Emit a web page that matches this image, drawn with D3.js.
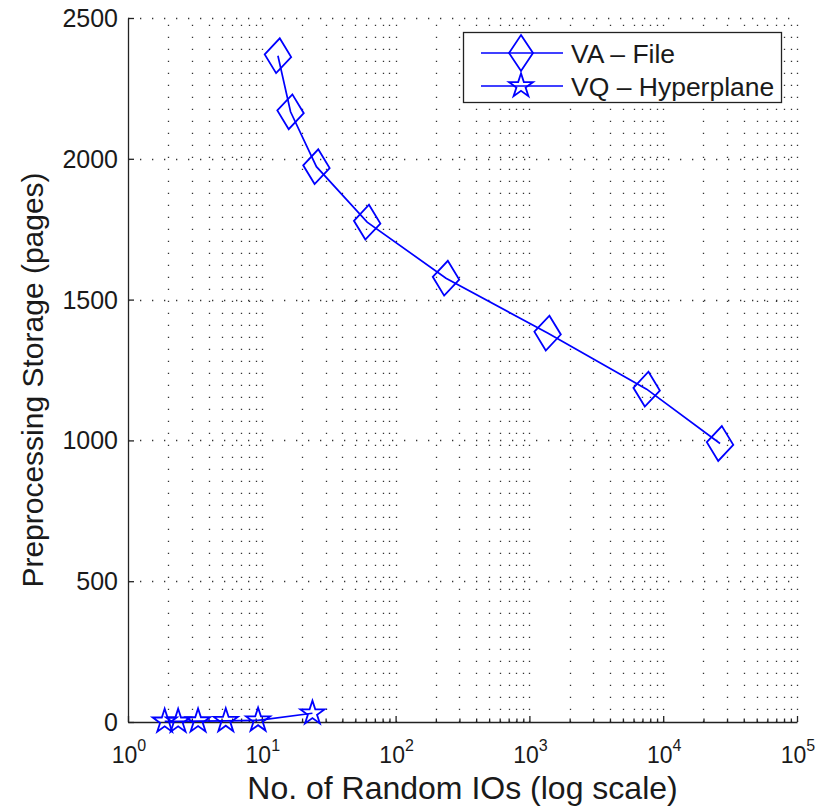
<!DOCTYPE html>
<html>
<head>
<meta charset="utf-8">
<script src="https://cdn.jsdelivr.net/npm/d3@7"></script>
<style>
  body { margin: 0; background: #fff; }
  text { font-family: "Liberation Sans", Arial, sans-serif; fill: #1a1a1a; }
</style>
</head>
<body>
<div id="container"></div>
<script>
/* DATA */
const vaIOs = [13.2, 16.4, 25.6, 61.3, 238, 1368, 7520, 26600];
const vaPages = [2366, 2167, 1972, 1775, 1576, 1381, 1182, 989];
const vqIOs = [1.88, 2.37, 3.34, 5.38, 9.38, 23.9];
const vqPages = [2, 2, 3, 4, 6, 31];
const seriesNames = ["VA \u2013 File", "VQ \u2013 Hyperplane"];
const yTicks = [0, 500, 1000, 1500, 2000, 2500];
const xDecades = [0, 1, 2, 3, 4, 5];

/* CONSTANTS */
const width = 816, height = 809;
const margin = {left: 128, right: 19, top: 18, bottom: 87};
const blue = "#0000ff";

const svg = d3.select("#container")
  .append("svg")
  .attr("width", width)
  .attr("height", height);

// SCALES
const xScale = d3.scaleLog()
  .domain([1, 1e5])
  .range([margin.left, width - margin.right]);

const yScale = d3.scaleLinear()
  .domain([0, 2500])
  .range([height - margin.bottom, margin.top]);

const x0 = xScale.range()[0], x1 = xScale.range()[1];
const y0 = yScale.range()[0], y1 = yScale.range()[1];

// minor tick values
const minorX = [];
xDecades.slice(0, -1).forEach(p => {
  for (let m = 2; m <= 9; m++) minorX.push(m * Math.pow(10, p));
});
const majorX = xDecades.map(p => Math.pow(10, p));

// GRID
const grid = svg.append("g")
  .attr("stroke", "#333")
  .attr("stroke-width", 1.3)
  .attr("stroke-dasharray", "1.3,10.7");

grid.selectAll("line.vx")
  .data(majorX.slice(1).concat(minorX))
  .join("line")
  .attr("class", "vx")
  .attr("x1", d => Math.round(xScale(d)) + 0.5)
  .attr("x2", d => Math.round(xScale(d)) + 0.5)
  .attr("y1", y0)
  .attr("y2", y1);

grid.selectAll("line.hy")
  .data(yTicks.slice(1))
  .join("line")
  .attr("class", "hy")
  .attr("x1", x0)
  .attr("x2", x1)
  .attr("y1", d => Math.round(yScale(d)) + 0.5)
  .attr("y2", d => Math.round(yScale(d)) + 0.5);

// AXES
const xAxis = d3.axisBottom(xScale)
  .tickValues(majorX)
  .tickSizeInner(-6)
  .tickSizeOuter(0)
  .tickFormat("");

const xMinor = d3.axisBottom(xScale)
  .tickValues(minorX)
  .tickSizeInner(-3.5)
  .tickSizeOuter(0)
  .tickFormat("");

const yAxis = d3.axisLeft(yScale)
  .tickValues(yTicks)
  .tickSizeInner(-6)
  .tickSizeOuter(0)
  .tickFormat("");

svg.append("g")
  .attr("transform", `translate(0,${y0})`)
  .call(xMinor)
  .call(g => g.select(".domain").remove());

svg.append("g")
  .attr("transform", `translate(0,${y0})`)
  .call(xAxis);

svg.append("g")
  .attr("transform", `translate(${x0},0)`)
  .call(yAxis);

svg.selectAll(".domain, .tick line")
  .attr("stroke", "#222")
  .attr("stroke-width", 1.3);

// tick labels
svg.append("g").selectAll("text")
  .data(yTicks)
  .join("text")
  .attr("x", x0 - 10)
  .attr("y", d => yScale(d))
  .attr("dy", "0.36em")
  .attr("text-anchor", "end")
  .attr("font-size", 25)
  .text(d => d);

const xl = svg.append("g").selectAll("text")
  .data(xDecades)
  .join("text")
  .attr("x", d => xScale(Math.pow(10, d)) + 1)
  .attr("y", y0 + 41)
  .attr("text-anchor", "middle")
  .attr("font-size", 23);
xl.append("tspan").text("10");
xl.append("tspan")
  .attr("dy", -12)
  .attr("font-size", 16)
  .text(d => d);

// axis titles
svg.append("text")
  .attr("x", (x0 + x1) / 2)
  .attr("y", height - 10)
  .attr("text-anchor", "middle")
  .attr("font-size", 32)
  .text("No. of Random IOs (log scale)");

svg.append("text")
  .attr("transform", `translate(43,${(y0 + y1) / 2 + 10}) rotate(-90)`)
  .attr("text-anchor", "middle")
  .attr("font-size", 30)
  .text("Preprocessing Storage (pages)");

// LINES
const vaData = vaIOs.map((v, i) => ({x: v, y: vaPages[i]}));
const vqData = vqIOs.map((v, i) => ({x: v, y: vqPages[i]}));

const lineGen = d3.line()
  .x(d => xScale(d.x))
  .y(d => yScale(d.y));

svg.selectAll("path.line")
  .data([vaData, vqData])
  .join("path")
  .attr("class", "line")
  .attr("fill", "none")
  .attr("stroke", blue)
  .attr("stroke-width", 1.7)
  .attr("d", d => lineGen(d));

// MARKERS
const diamondPath = "M0,-17.5L13.3,0L0,17.5L-13.3,0Z";
const starPath = d3.symbol(d3.symbolStar, 180)();

function drawMarkers(data, path, rot) {
  svg.append("g").selectAll("path")
    .data(data)
    .join("path")
    .attr("transform", d => `translate(${xScale(d.x)},${yScale(d.y)}) rotate(${rot})`)
    .attr("d", path)
    .attr("fill", "none")
    .attr("stroke", blue)
    .attr("stroke-width", 1.8);
}
drawMarkers(vaData, diamondPath, 6);
drawMarkers(vqData, starPath, 0);

// LEGEND
const legend = svg.append("g");
legend.append("rect")
  .attr("x", 463.5).attr("y", 32.5)
  .attr("width", 318).attr("height", 70)
  .attr("fill", "#fff")
  .attr("stroke", "#222")
  .attr("stroke-width", 1.3);

const rows = legend.selectAll("g.row")
  .data(seriesNames)
  .join("g")
  .attr("class", "row")
  .attr("transform", (d, i) => `translate(0,${53 + i * 33})`);

rows.append("line")
  .attr("x1", 481).attr("x2", 563)
  .attr("stroke", blue)
  .attr("stroke-width", 1.7);

rows.append("path")
  .attr("transform", "translate(521,0)")
  .attr("d", (d, i) => i === 0 ? "M0,-18L12,0L0,18L-12,0Z" : starPath)
  .attr("fill", "none")
  .attr("stroke", blue)
  .attr("stroke-width", 1.8);

rows.append("text")
  .attr("x", 571)
  .attr("dy", "0.36em")
  .attr("font-size", 26.5)
  .text(d => d);
</script>
</body>
</html>
